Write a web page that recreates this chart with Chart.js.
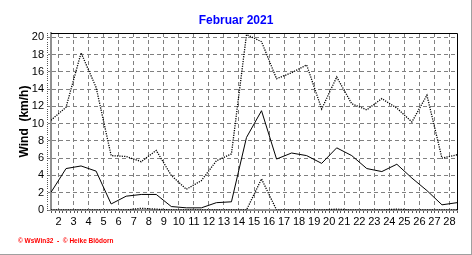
<!DOCTYPE html>
<html>
<head>
<meta charset="utf-8">
<script src="https://cdn.jsdelivr.net/npm/chart.js@4.4.0/dist/chart.umd.min.js"></script>
<style>
    html, body { margin: 0; padding: 0; background: #fff; }
    canvas { display: block; }
</style>
</head>
<body>
<canvas id="windChart" width="472" height="255"></canvas>
<script>
const days = [1, 2, 3, 4, 5, 6, 7, 8, 9, 10, 11, 12, 13, 14, 15, 16, 17, 18, 19, 20, 21, 22, 23, 24, 25, 26, 27, 28];
const windMax = [10.4, 11.9, 18.2, 14.2, 6.3, 6.2, 5.6, 6.9, 4.0, 2.4, 3.4, 5.7, 6.5, 20.3, 19.5, 15.2, 15.9, 16.8, 11.7, 15.4, 12.3, 11.6, 12.9, 11.8, 10.2, 13.3, 6.0, 6.4];
const windAvg = [2.05, 4.8, 5.1, 4.5, 0.7, 1.6, 1.8, 1.8, 0.4, 0.25, 0.25, 0.85, 0.95, 8.4, 11.5, 5.9, 6.6, 6.3, 5.4, 7.2, 6.3, 4.8, 4.45, 5.3, 3.7, 2.25, 0.6, 0.85];
const windMin = [0, 0, 0, 0, 0, 0, 0.2, 0.1, 0, 0, 0, 0, 0, 0, 3.6, 0, 0, 0, 0, 0.1, 0, 0, 0, 0.1, 0, 0, 0, 0];
const dayLabels = ['2', '3', '4', '5', '6', '7', '8', '9', '10', '11', '12', '13', '14', '15', '16', '17', '18', '19', '20', '21', '22', '23', '24', '25', '26', '27', '28'];
const yTicks = [0, 2, 4, 6, 8, 10, 12, 14, 16, 18, 20];

const FONT = 'Arial, "Liberation Sans", sans-serif';

function toPoints(values) {
    return values.map((v, i) => ({ x: days[i], y: v }));
}

// frame, title, footer and the small minor ticks
const decorations = {
    id: 'decorations',
    beforeDraw(chart) {
        const ctx = chart.ctx;
        ctx.save();
        ctx.fillStyle = '#fff';
        ctx.fillRect(0, 0, chart.width, chart.height);
        ctx.restore();
    },
    afterDraw(chart) {
        const { ctx, chartArea: a } = chart;
        const xs = chart.scales.x;
        const ys = chart.scales.y;
        ctx.save();
        // minor ticks
        ctx.fillStyle = '#555';
        for (let d = 1; d <= 28; d += 0.25) {
            const px = Math.round(xs.getPixelForValue(d));
            ctx.fillRect(px, a.bottom + 1, 1, 2);
        }
        for (let v = 0; v <= 20.5; v += 0.25) {
            const py = Math.round(ys.getPixelForValue(v));
            ctx.fillRect(a.left - 4, py, 1, 1);
        }
        // top and right border
        ctx.strokeStyle = '#000';
        ctx.lineWidth = 1;
        ctx.beginPath();
        ctx.moveTo(a.left, a.top + 0.5);
        ctx.lineTo(a.right + 0.5, a.top + 0.5);
        ctx.lineTo(a.right + 0.5, a.bottom);
        ctx.stroke();
        // outer frame
        ctx.fillStyle = '#a0a0a0';
        ctx.fillRect(471, 0, 1, 255);
        ctx.fillRect(0, 254, 472, 1);
        // title
        ctx.fillStyle = '#0000ff';
        ctx.font = 'bold 12px ' + FONT;
        ctx.textAlign = 'center';
        ctx.textBaseline = 'alphabetic';
        ctx.fillText('Februar 2021', 236, 23.5);
        // footer
        ctx.fillStyle = '#ff0000';
        ctx.font = 'bold 6.5px ' + FONT;
        ctx.textAlign = 'left';
        ctx.fillText('© WsWin32  -  © Heike Blödorn', 18, 243);
        ctx.restore();
    }
};

const dotted = { borderColor: '#000', borderWidth: 1.3, borderDash: [1.2, 1.2], pointRadius: 0, tension: 0 };

const ctx = document.getElementById('windChart');
new Chart(ctx, {
    type: 'line',
    data: {
        datasets: [
            Object.assign({ label: 'Max', data: toPoints(windMax) }, dotted),
            { label: 'Mittel', data: toPoints(windAvg), borderColor: '#000', borderWidth: 1, pointRadius: 0, tension: 0 },
            Object.assign({ label: 'Min', data: toPoints(windMin) }, dotted)
        ]
    },
    options: {
        responsive: false,
        animation: false,
        devicePixelRatio: 1,
        layout: { padding: { top: 33, right: 15, bottom: 0, left: 0 } },
        plugins: { legend: { display: false }, tooltip: { enabled: false }, title: { display: false } },
        scales: {
            x: {
                type: 'linear',
                min: 1,
                max: 28,
                afterFit: (scale) => { scale.height = 45; },
                afterBuildTicks: (scale) => { scale.ticks = dayLabels.map(l => ({ value: Number(l) - 0.5 })); },
                ticks: {
                    autoSkip: false,
                    maxRotation: 0,
                    padding: 5,
                    color: '#000',
                    font: { family: FONT, size: 11 },
                    callback: (value) => String(value + 0.5)
                },
                grid: { color: '#808080', lineWidth: 1, drawTicks: false },
                border: { color: '#909090', width: 2, dash: [4, 3] }
            },
            y: {
                min: 0,
                max: 20.5,
                afterFit: (scale) => { scale.width = 51; },
                afterBuildTicks: (scale) => { scale.ticks = yTicks.map(v => ({ value: v })); },
                ticks: {
                    padding: 4,
                    color: '#000',
                    font: { family: FONT, size: 11 }
                },
                title: {
                    display: true,
                    text: 'Wind  (km/h)',
                    color: '#000',
                    font: { family: FONT, size: 12, weight: 'bold' },
                    padding: { top: 17, bottom: 0 }
                },
                grid: {
                    color: (c) => c.tick && c.tick.value === 0 ? 'rgba(0,0,0,0)' : '#808080',
                    lineWidth: 1,
                    tickLength: 3,
                    tickColor: '#808080'
                },
                border: { color: '#909090', width: 2, dash: [4, 3] }
            }
        }
    },
    plugins: [decorations]
});
</script>
</body>
</html>
